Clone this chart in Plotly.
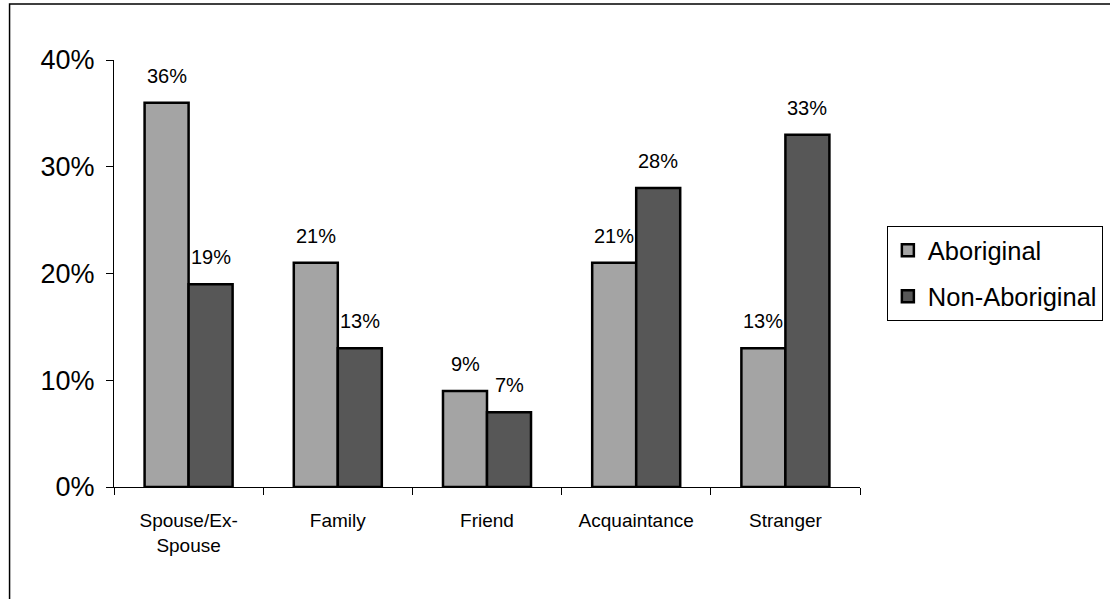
import plotly.graph_objects as go

categories = ["Spouse/Ex-<br>Spouse", "Family", "Friend", "Acquaintance", "Stranger"]
aboriginal = [0.36, 0.21, 0.09, 0.21, 0.13]
non_aboriginal = [0.19, 0.13, 0.07, 0.28, 0.33]
series_names = ["Aboriginal", "Non-Aboriginal"]
colors = ["#a4a4a4", "#575757"]
ytick_vals = [0.0, 0.1, 0.2, 0.3, 0.4]

FONT = "Liberation Sans, Arial, sans-serif"

fig = go.Figure()
for i, (name, vals) in enumerate(zip(series_names, [aboriginal, non_aboriginal])):
    fig.add_trace(go.Bar(
        x=categories, y=vals, name=name,
        marker=dict(color=colors[i], line=dict(color="black", width=2.5)),
        legendgroup=name,
    ))

annotations = []
for i, vals in enumerate([aboriginal, non_aboriginal]):
    shift = -22 if i == 0 else 22
    for c, v in zip(categories, vals):
        annotations.append(dict(
            x=c, y=v, xref="x", yref="y", text=f"{round(v*100)}%",
            showarrow=False, xshift=shift, yshift=27, yanchor="middle",
            font=dict(family=FONT, size=20, color="black"),
        ))

fig.update_layout(
    width=1110, height=599,
    margin=dict(l=114, r=250, t=60, b=112, autoexpand=False),
    paper_bgcolor="white", plot_bgcolor="white",
    barmode="group", bargap=0.41, bargroupgap=0,
    font=dict(family=FONT, color="black"),
    annotations=annotations,
    legend=dict(
        x=1.036, y=0.611, xanchor="left", yanchor="top",
        bordercolor="black", borderwidth=1,
        font=dict(family=FONT, size=25.5, color="black"),
        traceorder="grouped", tracegroupgap=10,
    ),
    shapes=[dict(type="rect", xref="paper", yref="paper",
                 x0=-0.140, x1=1.6, y0=-0.5, y1=1.131,
                 line=dict(color="black", width=1.5))],
    showlegend=True,
)
fig.update_xaxes(
    showline=True, linecolor="black", linewidth=1,
    ticks="outside", tickson="boundaries", ticklen=7, tickcolor="black",
    tickfont=dict(family=FONT, size=19, color="black"),
    showgrid=False, ticklabelstandoff=16, automargin=False,
)
fig.update_yaxes(
    range=[0, 0.4], tickvals=ytick_vals, tickformat=".0%",
    showline=True, linecolor="black", linewidth=1,
    ticks="outside", ticklen=7, tickcolor="black",
    tickfont=dict(family=FONT, size=27, color="black"),
    showgrid=False, zeroline=False, ticklabelstandoff=6, automargin=False,
)

fig.write_html("out.html", config={"displayModeBar": False},
               post_script="document.body.style.margin='0';")
